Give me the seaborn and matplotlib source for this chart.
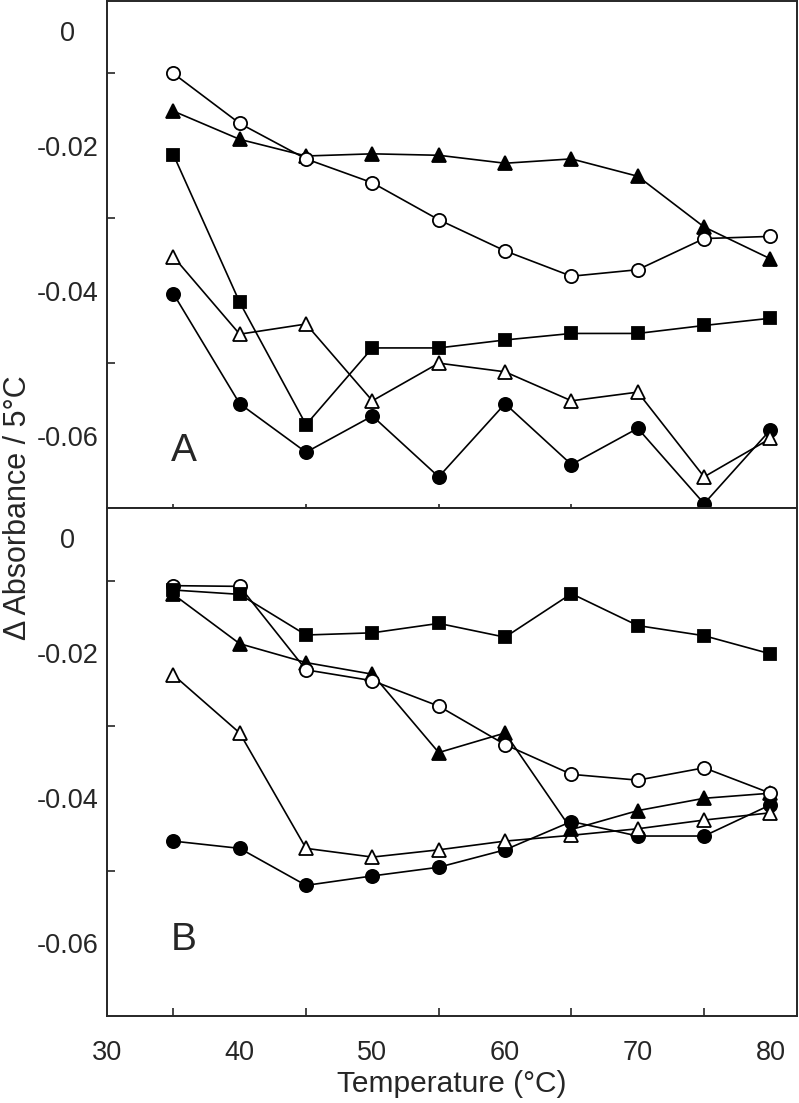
import numpy as np
import pandas as pd
import matplotlib
matplotlib.use("Agg")
import matplotlib.pyplot as plt
import seaborn as sns

# ---------------- data ----------------
temperature = [35, 40, 45, 50, 55, 60, 65, 70, 75, 80]

# Panel A
a_open_circle = [-0.0100, -0.0169, -0.0218, -0.0251, -0.0302, -0.0345, -0.0380, -0.0371, -0.0328, -0.0325]
a_filled_triangle = [-0.0152, -0.0191, -0.0214, -0.0211, -0.0213, -0.0224, -0.0218, -0.0242, -0.0312, -0.0356]
a_filled_square = [-0.0212, -0.0416, -0.0585, -0.0479, -0.0479, -0.0468, -0.0459, -0.0459, -0.0448, -0.0438]
a_open_triangle = [-0.0353, -0.0460, -0.0446, -0.0552, -0.0500, -0.0512, -0.0552, -0.0540, -0.0657, -0.0604]
a_filled_circle = [-0.0404, -0.0556, -0.0623, -0.0573, -0.0657, -0.0556, -0.0640, -0.0590, -0.0694, -0.0592]

# Panel B
b_open_circle = [-0.0107, -0.0108, -0.0223, -0.0238, -0.0273, -0.0326, -0.0367, -0.0375, -0.0358, -0.0393]
b_filled_square = [-0.0113, -0.0119, -0.0175, -0.0172, -0.0159, -0.0178, -0.0118, -0.0162, -0.0176, -0.0201]
b_filled_triangle = [-0.0119, -0.0187, -0.0213, -0.0229, -0.0337, -0.0310, -0.0443, -0.0417, -0.0400, -0.0393]
b_open_triangle = [-0.0230, -0.0310, -0.0469, -0.0481, -0.0471, -0.0459, -0.0451, -0.0442, -0.0430, -0.0420]
b_filled_circle = [-0.0459, -0.0469, -0.0520, -0.0507, -0.0495, -0.0471, -0.0432, -0.0452, -0.0452, -0.0409]

x_tick_labels = ["30", "40", "50", "60", "70", "80"]
x_tick_values = [30, 40, 50, 60, 70, 80]
y_tick_values = [-0.02, -0.04, -0.06]
y_tick_labels = ["-0.02", "-0.04", "-0.06"]

# ---------------- style ----------------
sns.set_style("ticks")
plt.rcParams["font.family"] = ["Liberation Sans", "DejaVu Sans"]
plt.rcParams["axes.linewidth"] = 1.4

W, H = 799, 1103
fig = plt.figure(figsize=(W / 100, H / 100), dpi=100)

left, right = 107, 797
axA = fig.add_axes([left / W, 1 - 508 / H, (right - left) / W, 507 / H])
axB = fig.add_axes([left / W, 1 - 1016 / H, (right - left) / W, 508 / H])

styles = {
    "filled_circle": dict(marker="o", mfc="black", ms=9.5),
    "open_circle": dict(marker="o", mfc="white", ms=9.5),
    "filled_square": dict(marker="s", mfc="black", ms=9.0),
    "filled_triangle": dict(marker="^", mfc="black", ms=10.5),
    "open_triangle": dict(marker="^", mfc="white", ms=10.5),
}

panels = [
    (axA, [("filled_circle", a_filled_circle), ("open_triangle", a_open_triangle),
           ("filled_square", a_filled_square), ("filled_triangle", a_filled_triangle),
           ("open_circle", a_open_circle)], "A", 0.112, 0.112),
    (axB, [("filled_circle", b_filled_circle), ("open_triangle", b_open_triangle),
           ("filled_triangle", b_filled_triangle), ("open_circle", b_open_circle),
           ("filled_square", b_filled_square)], "B", 0.111, 0.149),
]

TICK_FS = 19.5

for ax, series, letter, lx, ly in panels:
    for key, vals in series:
        st = styles[key]
        df = pd.DataFrame({"T": temperature, "v": vals})
        sns.lineplot(data=df, x="T", y="v", ax=ax, color="black", linewidth=1.2,
                     marker=st["marker"], markersize=st["ms"],
                     markerfacecolor=st["mfc"], markeredgecolor="black",
                     markeredgewidth=1.3, clip_on=False, legend=False)
    ax.set_xlim(30, 82)
    ax.set_ylim(-0.07, 0)
    ax.set_xlabel("")
    ax.set_ylabel("")
    ax.set_yticks(y_tick_values)
    ax.set_yticklabels(y_tick_labels)
    ax.set_yticks(np.arange(-0.06, 0, 0.01), minor=True)
    ax.tick_params(axis="y", which="major", length=0, pad=28.5, labelsize=TICK_FS)
    ax.tick_params(axis="y", which="minor", direction="in", length=6, width=1.2)
    for lbl in ax.get_yticklabels():
        lbl.set_horizontalalignment("center")
    ax.set_xticks(temperature, minor=True)
    ax.set_xticks(x_tick_values)
    ax.tick_params(axis="x", which="major", length=0, labelsize=TICK_FS, pad=17)
    ax.tick_params(axis="x", which="minor", direction="in", length=5.5, width=1.2)
    ax.annotate("0", xy=(0, -0.0045), xycoords=ax.get_yaxis_transform(),
                xytext=(-28.5, 0), textcoords="offset points",
                ha="center", va="center", fontsize=TICK_FS)
    ax.text(lx, ly, letter, transform=ax.transAxes, fontsize=28,
            ha="center", va="center")

axA.set_xticklabels([])
axA.tick_params(axis="x", which="minor", length=3)
axB.set_xticklabels(x_tick_labels)
axB.set_xlabel("Temperature (°C)", fontsize=21.5, labelpad=3)

fig.text(18 / W, 1 - 508 / H, "Δ Absorbance / 5°C", rotation=90,
         fontsize=22, ha="center", va="center")

fig.savefig("out.png", dpi=100)
